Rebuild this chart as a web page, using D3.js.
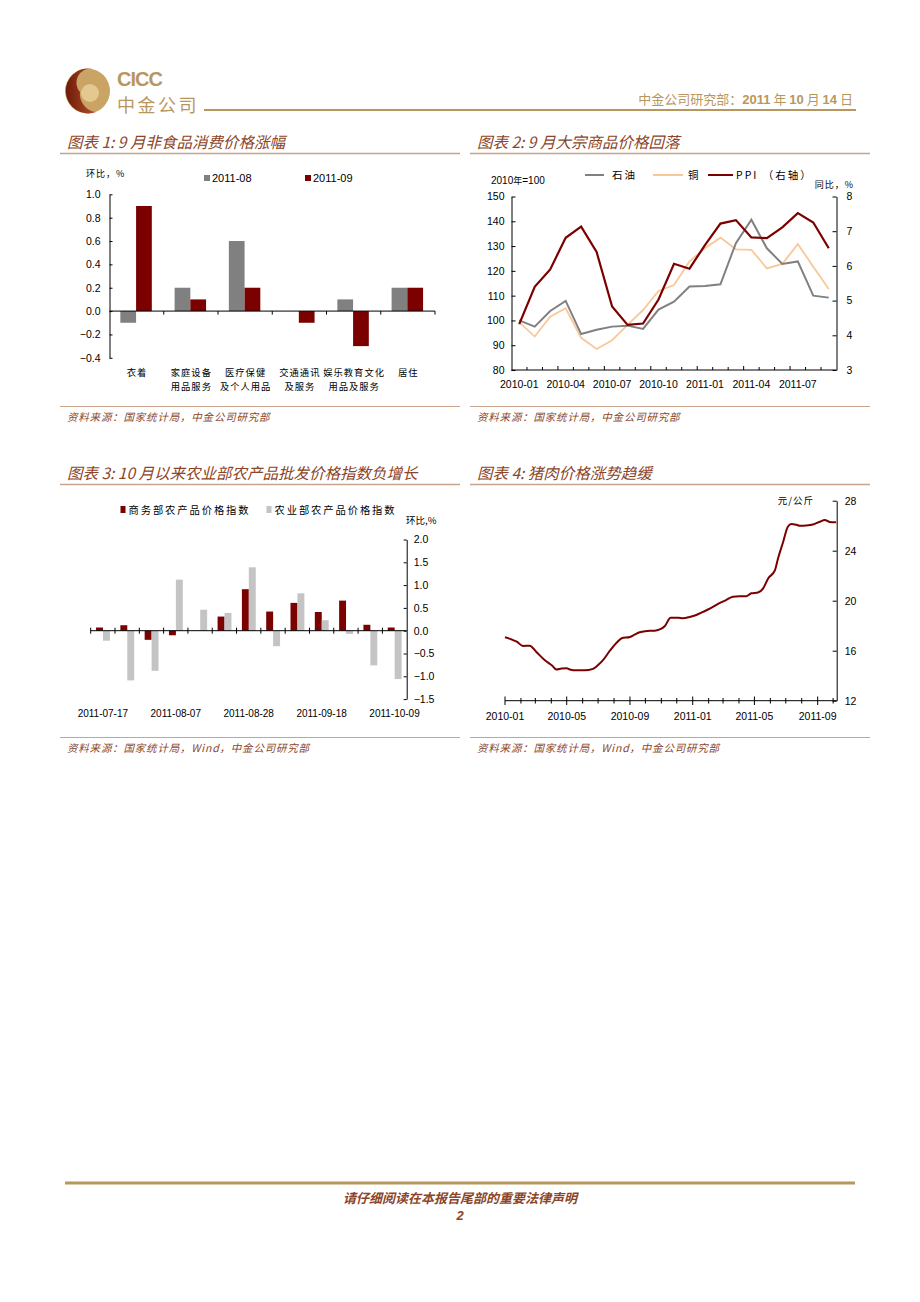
<!DOCTYPE html>
<html><head><meta charset="utf-8">
<script src="https://cdn.jsdelivr.net/npm/d3@7"></script>
<style>body{margin:0;background:#fff} svg{display:block}</style>
</head><body>
<svg id="page" width="920" height="1302"></svg>
<script>
// ---------------- DATA ----------------
// Chart 1
const c1Categories = ["衣着","家庭设备\n用品服务","医疗保健\n及个人用品","交通通讯\n及服务","娱乐教育文化\n用品及服务","居住"];
const c1Series = ["2011-08","2011-09"];
const c1Aug = [-0.1, 0.2, 0.6, 0.0, 0.1, 0.2];
const c1Sep = [0.9, 0.1, 0.2, -0.1, -0.3, 0.2];
const c1Ticks = [-0.4,-0.2,0,0.2,0.4,0.6,0.8,1.0];

// Chart 2
const c2Months = ["2010-01","2010-02","2010-03","2010-04","2010-05","2010-06","2010-07","2010-08","2010-09","2010-10","2010-11","2010-12",
                  "2011-01","2011-02","2011-03","2011-04","2011-05","2011-06","2011-07","2011-08","2011-09"];
const c2Oil    = [100, 97.5, 103.8, 107.9, 94.5, 96.2, 97.5, 97.9, 96.6, 104.4, 107.6, 113.7, 113.9, 114.6, 131.2, 140.6, 129.1, 122.8, 123.8, 110.0, 109.2];
const c2Copper = [99.3, 93.5, 101.5, 104.9, 93.0, 88.5, 92.0, 98.2, 104.2, 111.9, 114.3, 123.8, 129.1, 133.4, 128.7, 128.5, 121.0, 122.8, 130.8, 121.7, 112.7];
const c2PPI    = [4.32, 5.40, 5.90, 6.81, 7.13, 6.40, 4.83, 4.30, 4.34, 5.03, 6.06, 5.92, 6.60, 7.22, 7.32, 6.82, 6.80, 7.11, 7.52, 7.25, 6.51];
const c2LeftTicks = [80,90,100,110,120,130,140,150];
const c2RightTicks = [3,4,5,6,7,8];
const c2Labels = ["2010-01","2010-04","2010-07","2010-10","2011-01","2011-04","2011-07"];
const c2SeriesNames = ["石油","铜","PPI （右轴）"];

// Chart 3
const c3Dates = ["2011-07-17","2011-07-24","2011-07-31","2011-08-07","2011-08-14","2011-08-21","2011-08-28",
                 "2011-09-04","2011-09-11","2011-09-18","2011-09-25","2011-10-02","2011-10-09"];
const c3Mofcom = [0.07, 0.12, -0.20, -0.10, 0.00, 0.31, 0.91, 0.42, 0.61, 0.41, 0.66, 0.13, 0.07];
const c3Moa    = [-0.22, -1.09, -0.88, 1.12, 0.46, 0.39, 1.39, -0.34, 0.82, 0.23, -0.07, -0.76, -1.06];
const c3Ticks = [-1.5,-1.0,-0.5,0.0,0.5,1.0,1.5,2.0];
const c3Labels = ["2011-07-17","2011-08-07","2011-08-28","2011-09-18","2011-10-09"];
const c3SeriesNames = ["商务部农产品价格指数","农业部农产品价格指数"];

// Chart 4
const c4Dates = ["2010-01-01","2010-01-14","2010-01-24","2010-02-05","2010-02-18","2010-03-03","2010-03-19","2010-04-03","2010-04-11",
  "2010-04-21","2010-05-01","2010-05-07","2010-05-20","2010-06-05","2010-06-21","2010-07-01","2010-07-11","2010-07-24","2010-08-06",
  "2010-08-16","2010-09-01","2010-09-10","2010-09-20","2010-10-10","2010-10-19","2010-10-29","2010-11-08","2010-11-19","2010-12-04",
  "2010-12-13","2010-12-26","2011-01-08","2011-01-21","2011-02-06","2011-02-22","2011-03-07","2011-03-20","2011-04-02","2011-04-15",
  "2011-04-25","2011-05-08","2011-05-18","2011-05-28","2011-06-10","2011-06-16","2011-06-26","2011-07-05","2011-07-12","2011-07-22",
  "2011-07-28","2011-08-10","2011-08-23","2011-09-05","2011-09-15","2011-09-24","2011-10-07"];
const c4Pork = [17.07,16.90,16.72,16.38,16.40,15.90,15.26,14.80,14.50,
  14.58,14.60,14.50,14.43,14.43,14.55,14.85,15.26,16.00,16.64,
  17.00,17.10,17.28,17.47,17.60,17.60,17.70,17.98,18.64,18.64,
  18.60,18.70,18.86,19.10,19.42,19.80,20.05,20.32,20.35,20.35,
  20.59,20.65,20.99,21.79,22.45,23.39,24.72,25.92,26.14,26.07,
  26.00,26.02,26.10,26.32,26.46,26.30,26.27];
const c4Ticks = [12,16,20,24,28];
const c4Labels = ["2010-01","2010-05","2010-09","2011-01","2011-05","2011-09"];

// ---------------- STYLE ----------------
const CJK = "'Noto Sans CJK SC','Noto Sans',sans-serif";
const LAT = "'Liberation Sans',Arial,sans-serif";
const BROWN = "#8c4528";
const RULE = "#c9a48c";
const GOLD = "#b8975e";
const DARKRED = "#7b0000";
const GRAY1 = "#808080";
const GRAY3 = "#c4c4c4";

const svg = d3.select("#page");
svg.append("rect").attr("width",920).attr("height",1302).attr("fill","#fff");

// ---------------- HEADER ----------------
const hdr = svg.append("g");
const defs = svg.append("defs");
const lg = defs.append("linearGradient").attr("id","logoG").attr("x1","0").attr("x2","1").attr("y1","0").attr("y2","0");
lg.append("stop").attr("offset","0").attr("stop-color","#6e1a08");
lg.append("stop").attr("offset","1").attr("stop-color","#b0502a");
hdr.append("circle").attr("cx",87.5).attr("cy",91).attr("r",22.5).attr("fill","#c9a465");
hdr.append("path").attr("d","M 92 68.7 A 22.5 22.5 0 1 0 96 112 A 18 18 0 0 1 80 92 A 14 14 0 0 1 92 68.7 Z").attr("fill","url(#logoG)");
hdr.append("circle").attr("cx",90).attr("cy",93).attr("r",9).attr("fill","#e3c890");
hdr.append("path").attr("d","M 90 85 A 8 8 0 0 0 90 101 A 5 5 0 0 1 90 85 Z").attr("fill","#8a2a10");
hdr.append("text").attr("x",117).attr("y",86).attr("font-family",LAT).attr("font-weight","bold")
  .attr("font-size",20).attr("letter-spacing",-1).attr("fill",GOLD).text("CICC");
hdr.append("text").attr("x",117).attr("y",112).attr("font-family",CJK)
  .attr("font-size",18).attr("letter-spacing",2.5).attr("fill",GOLD).text("中金公司");
hdr.append("line").attr("x1",204).attr("x2",856).attr("y1",110).attr("y2",110).attr("stroke",GOLD).attr("stroke-width",2);
const hdrText = hdr.append("text").attr("x",853).attr("y",104).attr("text-anchor","end")
  .attr("font-family",CJK).attr("font-size",13).attr("fill",GOLD);
hdrText.append("tspan").text("中金公司研究部：");
hdrText.append("tspan").attr("font-family",LAT).attr("font-weight","bold").text("2011");
hdrText.append("tspan").text(" 年 ");
hdrText.append("tspan").attr("font-family",LAT).attr("font-weight","bold").text("10");
hdrText.append("tspan").text(" 月 ");
hdrText.append("tspan").attr("font-family",LAT).attr("font-weight","bold").text("14");
hdrText.append("tspan").text(" 日");

// ---------------- FOOTER ----------------
svg.append("line").attr("x1",65).attr("x2",855).attr("y1",1183).attr("y2",1183).attr("stroke",GOLD).attr("stroke-width",3);
svg.append("text").attr("x",460).attr("y",1203).attr("text-anchor","middle").attr("font-family",CJK)
  .attr("font-style","italic").attr("font-weight","bold").attr("font-size",13).attr("fill",BROWN)
  .text("请仔细阅读在本报告尾部的重要法律声明");
svg.append("text").attr("x",460).attr("y",1220).attr("text-anchor","middle").attr("font-family",LAT)
  .attr("font-style","italic").attr("font-weight","bold").attr("font-size",13).attr("fill",BROWN).text("2");

// ---------------- FRAMES ----------------
function frame(x0, x1, titleY, ruleY, srcRuleY, title, source){
  svg.append("text").attr("x",x0+7).attr("y",titleY).attr("font-family",CJK).attr("font-style","italic")
    .attr("font-size",15.5).attr("fill",BROWN).text(title);
  svg.append("line").attr("x1",x0).attr("x2",x1).attr("y1",ruleY).attr("y2",ruleY).attr("stroke",RULE).attr("stroke-width",1.5);
  svg.append("line").attr("x1",x0).attr("x2",x1).attr("y1",srcRuleY).attr("y2",srcRuleY).attr("stroke",RULE).attr("stroke-width",1);
  svg.append("text").attr("x",x0+7).attr("y",srcRuleY+14).attr("font-family",CJK).attr("font-style","italic")
    .attr("font-size",10.5).attr("letter-spacing",0.8).attr("fill",BROWN).text(source);
}
frame(60,460,148,153.5,406.5,"图表 1: 9 月非食品消费价格涨幅","资料来源：国家统计局，中金公司研究部");
frame(470,870,148,153.5,406.5,"图表 2: 9 月大宗商品价格回落","资料来源：国家统计局，中金公司研究部");
frame(60,460,479,484.5,737.5,"图表 3: 10 月以来农业部农产品批发价格指数负增长","资料来源：国家统计局，Wind，中金公司研究部");
frame(470,870,479,484.5,737.5,"图表 4: 猪肉价格涨势趋缓","资料来源：国家统计局，Wind，中金公司研究部");

function styleAxis(g){
  g.selectAll("path.domain").attr("stroke","#000").attr("stroke-width",1);
  g.selectAll(".tick line").attr("stroke","#000");
  g.selectAll(".tick text").attr("font-family",LAT).attr("font-size",10.5).attr("fill","#000");
}

// ---------------- CHART 1 ----------------
{
  const g = svg.append("g");
  const x = d3.scaleBand().domain(c1Categories).range([109.5,435]);
  const xs = d3.scaleBand().domain(c1Series).range([x.bandwidth()*0.2, x.bandwidth()*0.78]);
  const y = d3.scaleLinear().domain([-0.4,1.0]).range([357.8,194.3]);
  const colors = {"2011-08":GRAY1,"2011-09":DARKRED};
  const vals = {"2011-08":c1Aug,"2011-09":c1Sep};
  c1Series.forEach(s=>{
    g.selectAll(null).data(c1Categories).enter().append("rect")
      .attr("x",(d)=>x(d)+xs(s)).attr("width",xs.bandwidth())
      .attr("y",(d,i)=>y(Math.max(0,vals[s][i]))).attr("height",(d,i)=>Math.abs(y(vals[s][i])-y(0)))
      .attr("fill",colors[s]);
  });
  const ya = g.append("g").attr("transform","translate(109.5,0)")
    .call(d3.axisLeft(y).tickValues(c1Ticks).tickFormat(d3.format(".1f")).tickSizeInner(-3).tickSizeOuter(0).tickPadding(9));
  styleAxis(ya);
  g.append("line").attr("x1",109.5).attr("x2",435).attr("y1",y(0)).attr("y2",y(0)).attr("stroke","#000");
  const bounds = c1Categories.map(c=>x(c)).concat([x.range()[1]]);
  g.selectAll(null).data(bounds.slice(1)).enter().append("line")
    .attr("x1",d=>d).attr("x2",d=>d).attr("y1",y(0)).attr("y2",y(0)+3.5).attr("stroke","#000");
  c1Categories.forEach(c=>{
    const lines = c.split("\n");
    lines.forEach((ln,k)=>{
      g.append("text").attr("x",x(c)+x.bandwidth()/2+0.5).attr("y",376+k*14).attr("text-anchor","middle")
        .attr("font-family",CJK).attr("font-size",9.3).attr("letter-spacing",1).attr("fill","#000").text(ln);
    });
  });
  g.append("text").attr("x",86).attr("y",177).attr("font-family",CJK).attr("font-size",9).attr("letter-spacing",1).text("环比，%");
  const lx = [204,305];
  c1Series.forEach((s,i)=>{
    g.append("rect").attr("x",lx[i]).attr("y",175).attr("width",6).attr("height",6).attr("fill",colors[s]);
    g.append("text").attr("x",lx[i]+8).attr("y",182).attr("font-family",LAT).attr("font-size",11).text(s);
  });
}

// ---------------- CHART 2 ----------------
{
  const g = svg.append("g");
  const x = d3.scaleBand().domain(c2Months).range([511.5,836.5]);
  const cx = d=>x(d)+x.bandwidth()/2;
  const yL = d3.scaleLinear().domain([80,150]).range([370,196.5]);
  const yR = d3.scaleLinear().domain([3,8]).range([370,196.5]);
  const al = g.append("g").attr("transform","translate(511.5,0)")
    .call(d3.axisLeft(yL).tickValues(c2LeftTicks).tickSizeInner(-4).tickSizeOuter(0).tickPadding(7));
  styleAxis(al);
  const ar = g.append("g").attr("transform","translate(836.5,0)")
    .call(d3.axisRight(yR).tickValues(c2RightTicks).tickFormat(d3.format("d")).tickSizeInner(-4).tickSizeOuter(0).tickPadding(10));
  styleAxis(ar);
  g.append("line").attr("x1",511.5).attr("x2",836.5).attr("y1",370).attr("y2",370).attr("stroke","#000");
  const bounds = c2Months.map(m=>x(m)).slice(1);
  g.selectAll(null).data(bounds).enter().append("line")
    .attr("x1",d=>d).attr("x2",d=>d).attr("y1",370).attr("y2",(d,i)=> (i+1)%3===0 ? 366 : 367).attr("stroke","#000");
  g.selectAll(null).data(c2Labels).enter().append("text")
    .attr("x",d=>cx(d)).attr("y",388).attr("text-anchor","middle")
    .attr("font-family",LAT).attr("font-size",10.5).text(d=>d);
  const mk = (arr,sc)=> d3.line().x((d,i)=>cx(c2Months[i])).y(d=>sc(d))(arr);
  g.append("path").attr("d",mk(c2Copper,yL)).attr("fill","none").attr("stroke","#f8c89a").attr("stroke-width",1.8);
  g.append("path").attr("d",mk(c2Oil,yL)).attr("fill","none").attr("stroke",GRAY1).attr("stroke-width",2);
  g.append("path").attr("d",mk(c2PPI,yR)).attr("fill","none").attr("stroke",DARKRED).attr("stroke-width",2.2);
  const t = g.append("text").attr("x",491).attr("y",184).attr("font-family",LAT).attr("font-size",10);
  t.append("tspan").text("2010");
  t.append("tspan").attr("font-family",CJK).attr("font-size",9).text("年");
  t.append("tspan").text("=100");
  g.append("text").attr("x",854).attr("y",188).attr("text-anchor","end").attr("font-family",CJK).attr("font-size",9).attr("letter-spacing",1).text("同比，%");
  const legend = [{n:c2SeriesNames[0],c:GRAY1,x1:585,x2:604,tx:612},{n:c2SeriesNames[1],c:"#f8c89a",x1:653,x2:683,tx:688},{n:c2SeriesNames[2],c:DARKRED,x1:708,x2:733,tx:736}];
  legend.forEach(l=>{
    g.append("line").attr("x1",l.x1).attr("x2",l.x2).attr("y1",175).attr("y2",175).attr("stroke",l.c).attr("stroke-width",2);
    g.append("text").attr("x",l.tx).attr("y",179).attr("font-family",CJK).attr("font-size",10.5).attr("letter-spacing",2).text(l.n);
  });
}

// ---------------- CHART 3 ----------------
{
  const g = svg.append("g");
  const x = d3.scaleBand().domain(c3Dates).range([90.7,406.7]);
  const xs = d3.scaleBand().domain(c3SeriesNames).range([x.bandwidth()*0.22, x.bandwidth()*0.79]);
  const y = d3.scaleLinear().domain([-1.5,2.0]).range([699.1,539.5]);
  const colors = [DARKRED, GRAY3];
  const vals = [c3Mofcom, c3Moa];
  c3SeriesNames.forEach((s,k)=>{
    g.selectAll(null).data(c3Dates).enter().append("rect")
      .attr("x",d=>x(d)+xs(s)).attr("width",xs.bandwidth())
      .attr("y",(d,i)=>y(Math.max(0,vals[k][i]))).attr("height",(d,i)=>Math.abs(y(vals[k][i])-y(0)))
      .attr("fill",colors[k]);
  });
  const ar = g.append("g").attr("transform","translate(406.7,0)")
    .call(d3.axisRight(y).tickValues(c3Ticks).tickFormat(d3.format(".1f")).tickSizeInner(-3).tickSizeOuter(0).tickPadding(7));
  styleAxis(ar);
  g.append("line").attr("x1",90.7).attr("x2",406.7).attr("y1",y(0)).attr("y2",y(0)).attr("stroke","#000");
  const bounds = c3Dates.map(d=>x(d));
  g.selectAll(null).data(bounds).enter().append("line")
    .attr("x1",d=>d).attr("x2",d=>d).attr("y1",y(0)-3).attr("y2",y(0)+3).attr("stroke","#000");
  g.selectAll(null).data(c3Labels).enter().append("text")
    .attr("x",d=>x(d)+x.bandwidth()/2).attr("y",717).attr("text-anchor","middle")
    .attr("font-family",LAT).attr("font-size",10).text(d=>d);
  g.append("text").attr("x",406).attr("y",524).attr("font-family",CJK).attr("font-size",9.5).text("环比,%");
  const lx = [120.5,266.5];
  c3SeriesNames.forEach((s,k)=>{
    g.append("rect").attr("x",lx[k]).attr("y",506).attr("width",5).attr("height",7).attr("fill",colors[k]);
    g.append("text").attr("x",lx[k]+8).attr("y",514).attr("font-family",CJK).attr("font-size",10.3).attr("letter-spacing",1.9).text(s);
  });
}

// ---------------- CHART 4 ----------------
{
  const g = svg.append("g");
  const parse = d3.timeParse("%Y-%m-%d");
  const x = d3.scaleTime().domain([parse("2010-01-01"), parse("2011-10-08")]).range([505,836.7]);
  const y = d3.scaleLinear().domain([12,28]).range([700.7,500.7]);
  const ar = g.append("g").attr("transform","translate(836.7,0)")
    .call(d3.axisRight(y).tickValues(c4Ticks).tickSizeInner(-4).tickSizeOuter(0).tickPadding(8));
  styleAxis(ar);
  g.append("line").attr("x1",505).attr("x2",836.7).attr("y1",700.7).attr("y2",700.7).attr("stroke","#000");
  const months = d3.timeMonth.range(parse("2010-01-01"), parse("2011-10-02"));
  g.selectAll(null).data(months).enter().append("line")
    .attr("x1",d=>x(d)).attr("x2",d=>x(d))
    .attr("y1",d=> d.getMonth()%4===0 ? 696.5 : 698)
    .attr("y2",d=> d.getMonth()%4===0 ? 705 : 703.5).attr("stroke","#000");
  const pm = d3.timeParse("%Y-%m");
  g.selectAll(null).data(c4Labels).enter().append("text")
    .attr("x",d=>x(pm(d))).attr("y",720).attr("text-anchor","middle")
    .attr("font-family",LAT).attr("font-size",10.5).text(d=>d);
  const line = d3.line().x((d,i)=>x(parse(c4Dates[i]))).y(d=>y(d)).curve(d3.curveMonotoneX);
  g.append("path").attr("d",line(c4Pork)).attr("fill","none").attr("stroke",DARKRED).attr("stroke-width",2);
  g.append("text").attr("x",814).attr("y",504).attr("text-anchor","end").attr("font-family",CJK).attr("font-size",9.5).attr("letter-spacing",1).text("元/公斤");
}
</script>
</body></html>
